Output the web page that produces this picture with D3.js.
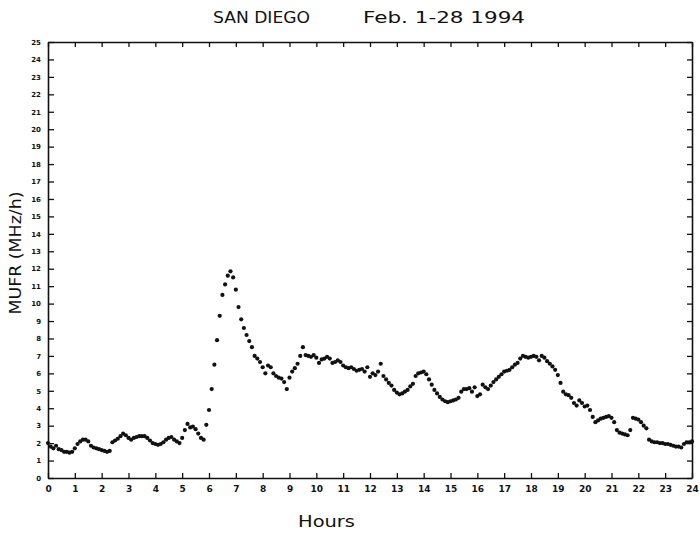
<!DOCTYPE html>
<html>
<head>
<meta charset="utf-8">
<script src="https://cdn.jsdelivr.net/npm/d3@7"></script>
<style>
  body { margin: 0; background: #fff; }
  text { font-family: "DejaVu Sans", sans-serif; fill: #111; }
</style>
</head>
<body>
<svg width="700" height="533"></svg>
<script>
const width = 700, height = 533;
const margin = {top: 42, right: 8, bottom: 55, left: 48};

// sample times, one every 6 minutes
const hours = d3.range(241).map(i => i / 10);

// MUFR, hour by hour (10 samples per hour)
const mufr = [
  2.0, 1.8, 1.7, 1.85, 1.65, 1.6, 1.5, 1.5, 1.45, 1.5,        // 0
  1.7, 1.95, 2.1, 2.2, 2.2, 2.1, 1.85, 1.75, 1.7, 1.65,       // 1
  1.6, 1.55, 1.5, 1.55, 2.05, 2.15, 2.25, 2.4, 2.55, 2.45,    // 2
  2.3, 2.2, 2.3, 2.35, 2.4, 2.4, 2.4, 2.3, 2.15, 2.0,         // 3
  1.95, 1.9, 1.95, 2.05, 2.2, 2.3, 2.35, 2.2, 2.1, 2.0,       // 4
  2.3, 2.75, 3.1, 2.9, 2.95, 2.8, 2.55, 2.3, 2.2, 3.05,       // 5
  3.9, 5.1, 6.5, 7.9, 9.3, 10.5, 11.1, 11.6, 11.85, 11.5,     // 6
  10.8, 9.8, 9.1, 8.6, 8.2, 7.85, 7.5, 7.0, 6.85, 6.65,       // 7
  6.35, 6.0, 6.45, 6.35, 6.0, 5.85, 5.75, 5.7, 5.5, 5.1,      // 8
  5.75, 6.1, 6.3, 6.55, 7.0, 7.5, 7.05, 7.0, 6.95, 7.05,      // 9
  6.9, 6.6, 6.8, 6.85, 6.95, 6.85, 6.6, 6.65, 6.75, 6.65,     // 10
  6.45, 6.35, 6.3, 6.35, 6.25, 6.15, 6.2, 6.25, 6.1, 6.35,    // 11
  5.8, 6.0, 5.9, 6.1, 6.55, 5.85, 5.65, 5.45, 5.3, 5.05,      // 12
  4.9, 4.8, 4.85, 4.95, 5.05, 5.25, 5.4, 5.85, 6.0, 6.05,     // 13
  6.1, 5.95, 5.65, 5.35, 5.05, 4.85, 4.65, 4.5, 4.4, 4.35,    // 14
  4.4, 4.45, 4.5, 4.6, 4.95, 5.1, 5.1, 5.15, 4.95, 5.2,       // 15
  4.7, 4.8, 5.35, 5.2, 5.1, 5.3, 5.5, 5.65, 5.8, 5.95,        // 16
  6.1, 6.15, 6.2, 6.35, 6.5, 6.6, 6.85, 7.0, 6.95, 6.9,       // 17
  6.95, 7.0, 6.95, 6.75, 7.0, 6.9, 6.7, 6.55, 6.4, 6.2,       // 18
  5.9, 5.45, 4.95, 4.8, 4.75, 4.6, 4.3, 4.15, 4.45, 4.3,      // 19
  4.1, 4.15, 3.9, 3.5, 3.2, 3.3, 3.4, 3.45, 3.5, 3.55,        // 20
  3.45, 3.2, 2.75, 2.6, 2.55, 2.5, 2.45, 2.75, 3.45, 3.4,     // 21
  3.35, 3.2, 3.0, 2.85, 2.2, 2.1, 2.05, 2.05, 2.0, 2.0,       // 22
  1.95, 1.95, 1.9, 1.85, 1.8, 1.8, 1.75, 1.95, 2.05, 2.05,    // 23
  2.1                                                          // 24
];

const xTicks = d3.range(0, 25);
const yTicks = d3.range(0, 26);

const svg = d3.select("svg");
const x = d3.scaleLinear().domain([0, 24]).range([margin.left, width - margin.right]);
const y = d3.scaleLinear().domain([0, 25]).range([height - margin.bottom, margin.top]);

// frame with inward ticks on all four sides
svg.append("g")
  .attr("transform", `translate(0,${y(0)})`)
  .call(d3.axisBottom(x).tickValues(xTicks).tickSizeInner(-5).tickSizeOuter(0).tickPadding(8))
  .call(g => g.selectAll("text").attr("font-size", 9).attr("font-weight", "bold"));

svg.append("g")
  .attr("transform", `translate(0,${y(25)})`)
  .call(d3.axisTop(x).tickValues(xTicks).tickSizeInner(-5).tickSizeOuter(0).tickFormat(""));

svg.append("g")
  .attr("transform", `translate(${x(0)},0)`)
  .call(d3.axisLeft(y).tickValues(yTicks).tickSizeInner(-6).tickSizeOuter(0).tickPadding(7))
  .call(g => g.selectAll("text").attr("font-size", 7).attr("font-weight", "bold"));

svg.append("g")
  .attr("transform", `translate(${x(24)},0)`)
  .call(d3.axisRight(y).tickValues(yTicks).tickSizeInner(-5).tickSizeOuter(0).tickFormat(""));

svg.selectAll(".domain").attr("stroke", "#111").attr("stroke-width", 1.6);
svg.selectAll(".tick line").attr("stroke", "#111").attr("stroke-width", 1.3);

// points
svg.append("g")
  .selectAll("circle")
  .data(mufr)
  .join("circle")
  .attr("cx", (d, i) => x(hours[i]))
  .attr("cy", d => y(d))
  .attr("r", 2.1)
  .attr("fill", "#111");

// titles
svg.append("text").attr("x", 213).attr("y", 23)
  .attr("font-size", 16).attr("textLength", 97).attr("lengthAdjust", "spacingAndGlyphs")
  .text("SAN DIEGO");
svg.append("text").attr("x", 363).attr("y", 23)
  .attr("font-size", 16).attr("textLength", 162).attr("lengthAdjust", "spacingAndGlyphs")
  .text("Feb. 1-28 1994");

svg.append("text")
  .attr("transform", "translate(21,253) rotate(-90)")
  .attr("text-anchor", "middle")
  .attr("font-size", 15).attr("textLength", 123).attr("lengthAdjust", "spacingAndGlyphs")
  .text("MUFR (MHz/h)");

svg.append("text").attr("x", 298).attr("y", 527)
  .attr("font-size", 15).attr("textLength", 57).attr("lengthAdjust", "spacingAndGlyphs")
  .text("Hours");
</script>
</body>
</html>
